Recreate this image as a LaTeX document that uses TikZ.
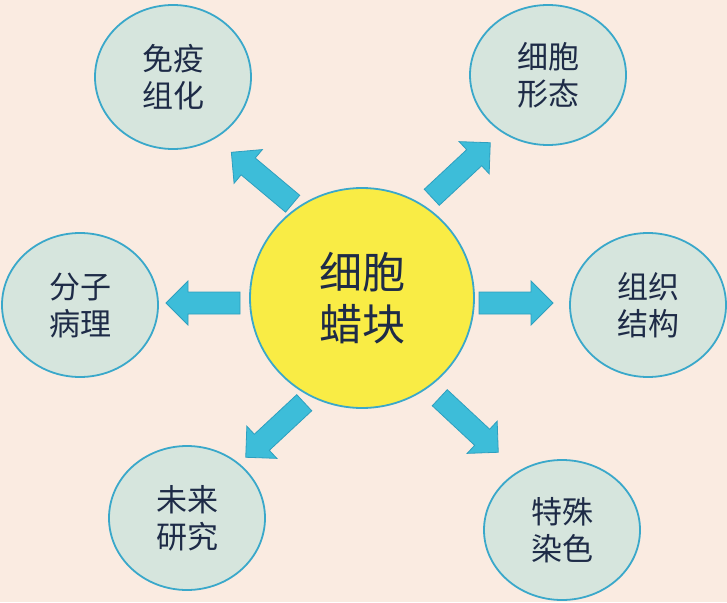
\documentclass[tikz,border=0pt]{standalone}
\usepackage{fontspec}
\setmainfont{Noto Sans CJK SC}
\usetikzlibrary{shapes.geometric}
\definecolor{bg}{HTML}{FAEBE1}
\definecolor{ellf}{HTML}{D6E5DD}
\definecolor{edge}{HTML}{3AA8CA}
\definecolor{arr}{HTML}{3DBDD9}
\definecolor{arrb}{HTML}{2E9FBF}
\definecolor{txt}{HTML}{1E2B47}
\definecolor{ctr}{HTML}{F9EC45}
\tikzset{
 leaf/.style={ellipse,draw=edge,line width=1.8pt,fill=ellf,minimum width=156pt,minimum height=144pt,text=txt,font=\fontsize{31}{37}\selectfont,align=center},
 blk/.pic={\draw[draw=arrb,line width=0.8pt,fill=arr] (-#1/2,-11) -- (#1/2-22,-11) -- (#1/2-22,-22) -- (#1/2,0) -- (#1/2-22,22) -- (#1/2-22,11) -- (-#1/2,11) -- cycle;},
}
\begin{document}
\begin{tikzpicture}[x=1pt,y=-1pt]
\fill[bg] (0,0) rectangle (727,602);
\useasboundingbox (0,0) rectangle (727,602);
\node[ellipse,draw=edge,line width=1.8pt,fill=ctr,minimum width=224pt,minimum height=220pt,text=txt,font=\fontsize{43}{52}\selectfont,align=center] (c) at (362,298) {细胞\\蜡块};
\node[leaf] (a1) at (173,77) {免疫\\组化};
\node[leaf,minimum height=140pt] (a2) at (548,75) {细胞\\形态};
\node[leaf] (a3) at (80,305) {分子\\病理};
\node[leaf] (a4) at (648,305) {组织\\结构};
\node[leaf] (a5) at (187,518) {未来\\研究};
\node[leaf,minimum height=140pt] (a6) at (562,530) {特殊\\染色};
\pic[rotate=180] at (203,303) {blk=74};
\pic at (516,303) {blk=74};
\pic[rotate=140] at (262,178) {blk=80};
\pic[rotate=43] at (461,170) {blk=80};
\pic[rotate=-137] at (275,430) {blk=80};
\pic[rotate=-43] at (469,425) {blk=80};
\end{tikzpicture}
\end{document}
